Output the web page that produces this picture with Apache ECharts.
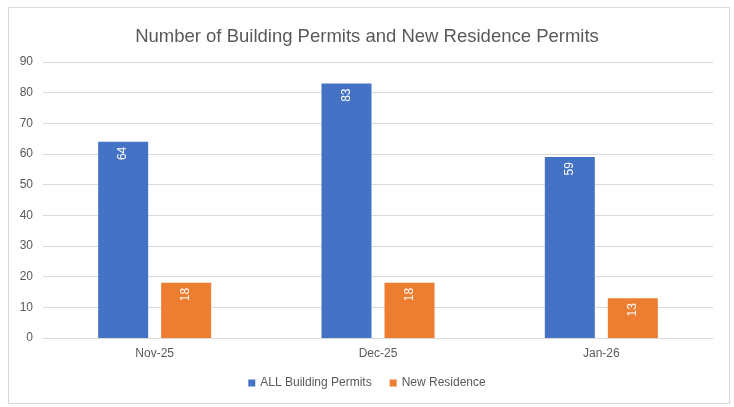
<!DOCTYPE html>
<html>
<head>
<meta charset="utf-8">
<script src="https://cdn.jsdelivr.net/npm/echarts@6/dist/echarts.min.js"></script>
<style>
  html, body { margin: 0; padding: 0; background: #fff; }
  #chart { width: 734px; height: 407px; }
</style>
</head>
<body>
<div id="chart"></div>
<script>
const months = ['Nov-25', 'Dec-25', 'Jan-26']
const allBuildingPermits = [64, 83, 59]
const newResidence = [18, 18, 13]
const yTicks = [0, 90, 10]  // min, max, step

const fontFamily = "'Liberation Sans', 'DejaVu Sans', sans-serif"

const barLabel = {
  show: true,
  position: 'insideTop',
  rotate: 90,
  align: 'right',
  verticalAlign: 'middle',
  distance: 5,
  color: '#fff',
  fontSize: 12,
  fontFamily: fontFamily
}

const chart = echarts.init(document.getElementById('chart'))
chart.setOption({
  animation: false,
  title: {
    text: 'Number of Building Permits and New Residence Permits',
    left: 'center',
    top: 22,
    textStyle: {
      color: '#595959',
      fontWeight: 'normal',
      fontSize: 18.5,
      fontFamily: fontFamily
    }
  },
  graphic: [
    {
      type: 'rect',
      shape: { x: 8.5, y: 7.5, width: 721, height: 396 },
      style: { fill: 'none', stroke: '#d9d9d9', lineWidth: 1 },
      silent: true
    }
  ],
  legend: {
    bottom: 13,
    left: 'center',
    icon: 'rect',
    itemWidth: 7,
    itemHeight: 7,
    itemGap: 18,
    textStyle: { color: '#595959', fontSize: 12, fontFamily: fontFamily },
    data: ['ALL Building Permits', 'New Residence']
  },
  grid: { left: 43, right: 21, top: 62, bottom: 69, containLabel: false },
  xAxis: {
    type: 'category',
    data: months,
    axisLine: { lineStyle: { color: '#d9d9d9' } },
    axisTick: { show: false },
    axisLabel: { color: '#595959', fontSize: 12, margin: 10, fontFamily: fontFamily }
  },
  yAxis: {
    type: 'value',
    min: yTicks[0],
    max: yTicks[1],
    interval: yTicks[2],
    axisLine: { show: false },
    axisTick: { show: false },
    splitLine: { lineStyle: { color: '#d9d9d9' } },
    axisLabel: { color: '#595959', fontSize: 12, margin: 10, fontFamily: fontFamily }
  },
  series: [
    {
      name: 'ALL Building Permits',
      type: 'bar',
      data: allBuildingPermits,
      barWidth: 50,
      barGap: '26%',
      itemStyle: { color: '#4472C4' },
      label: barLabel
    },
    {
      name: 'New Residence',
      type: 'bar',
      data: newResidence,
      barWidth: 50,
      itemStyle: { color: '#ED7D31' },
      label: barLabel
    }
  ]
})
</script>
</body>
</html>
